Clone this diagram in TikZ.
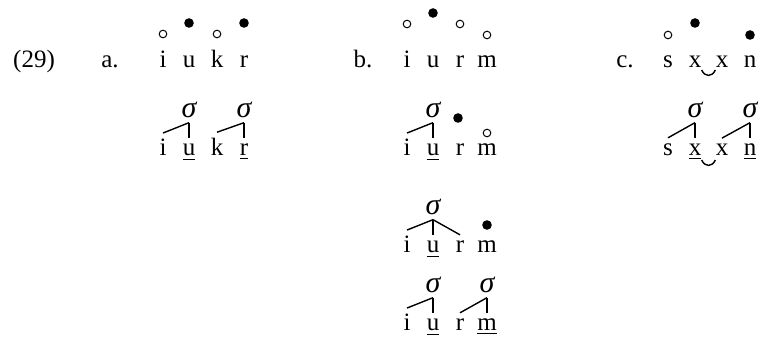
\documentclass[tikz,border=0pt]{standalone}
\usepackage{fontspec}
\setmainfont{Liberation Serif}
\usetikzlibrary{positioning}

\tikzset{
    seg/.style={anchor=base, inner sep=3pt},
    syl/.style={anchor=base, inner sep=2pt, font=\fontsize{15}{18}\selectfont\itshape},
    hollow/.style={circle, draw, line width=0.5pt, inner sep=0pt, minimum size=3.8pt},
    solid/.style={circle, fill, inner sep=0pt, minimum size=4.8pt},
    assoc/.style={line width=0.7pt},
    slur/.style={line width=0.7pt, out=-65, in=-115, looseness=1.5}
}

\begin{document}
\begin{tikzpicture}[x=0.5pt, y=-0.5pt, font=\fontsize{12.5}{15}\selectfont]
    \useasboundingbox (0,0) rectangle (760,340);

    % labels
    \node[seg] (ex) at (34,68) {(29)};
    \node[seg] (la) at (110,68) {a.};
    \node[seg] (lb) at (363,68) {b.};
    \node[seg] (lc) at (625,68) {c.};

    % (a) input
    \node[seg] (a1i) at (163,68) {i};
    \node[seg] (a1u) at (189,68) {u};
    \node[seg] (a1k) at (217,68) {k};
    \node[seg] (a1r) at (244,68) {r};
    \node[hollow] at (163,34) {};
    \node[solid] at (189,23) {};
    \node[hollow] at (217,34) {};
    \node[solid] at (244,23) {};

    % (a) output
    \node[seg] (a2i) at (163,156) {i};
    \node[seg] (a2u) at (189,156) {\underline{u}};
    \node[seg] (a2k) at (217,156) {k};
    \node[seg] (a2r) at (244,156) {\underline{r}};
    \node[syl] (a2s1) at (189,118) {σ};
    \node[syl] (a2s2) at (244,118) {σ};
    \draw[assoc] (a2s1.south) -- (a2i.north);
    \draw[assoc] (a2s1.south) -- (a2u.north);
    \draw[assoc] (a2s2.south) -- (a2k.north);
    \draw[assoc] (a2s2.south) -- (a2r.north);

    % (b) input
    \node[seg] (b1i) at (407,68) {i};
    \node[seg] (b1u) at (433,68) {u};
    \node[seg] (b1r) at (460,68) {r};
    \node[seg] (b1m) at (487,68) {m};
    \node[hollow] at (407,24) {};
    \node[solid] at (433,13) {};
    \node[hollow] at (460,24) {};
    \node[hollow] at (487,35) {};

    % (b) step 1
    \node[seg] (b2i) at (407,156) {i};
    \node[seg] (b2u) at (433,156) {\underline{u}};
    \node[seg] (b2r) at (460,156) {r};
    \node[seg] (b2m) at (487,156) {m};
    \node[syl] (b2s) at (433,118) {σ};
    \node[solid] at (458,118) {};
    \node[hollow] at (487,133) {};
    \draw[assoc] (b2s.south) -- (b2i.north);
    \draw[assoc] (b2s.south) -- (b2u.north);

    % (b) step 2
    \node[seg] (b3i) at (407,253) {i};
    \node[seg] (b3u) at (433,253) {\underline{u}};
    \node[seg] (b3r) at (460,253) {r};
    \node[seg] (b3m) at (487,253) {m};
    \node[syl] (b3s) at (433,215) {σ};
    \node[solid] at (487,225) {};
    \draw[assoc] (b3s.south) -- (b3i.north);
    \draw[assoc] (b3s.south) -- (b3u.north);
    \draw[assoc] (b3s.south) -- (b3r.north);

    % (b) step 3
    \node[seg] (b4i) at (407,331) {i};
    \node[seg] (b4u) at (433,331) {\underline{u}};
    \node[seg] (b4r) at (460,331) {r};
    \node[seg] (b4m) at (487,331) {\underline{m}};
    \node[syl] (b4s1) at (433,293) {σ};
    \node[syl] (b4s2) at (487,293) {σ};
    \draw[assoc] (b4s1.south) -- (b4i.north);
    \draw[assoc] (b4s1.south) -- (b4u.north);
    \draw[assoc] (b4s2.south) -- (b4r.north);
    \draw[assoc] (b4s2.south) -- (b4m.north);

    % (c) input
    \node[seg] (c1s) at (668,68) {s};
    \node[seg] (c1x) at (695,68) {x};
    \node[seg] (c1y) at (722,68) {x};
    \node[seg] (c1n) at (750,68) {n};
    \node[hollow] at (668,35) {};
    \node[solid] at (695,23) {};
    \node[solid] at (750,35) {};
    \draw[slur] ([xshift=-3pt,yshift=-1pt]c1x.base east) to ([xshift=3pt,yshift=-1pt]c1y.base west);

    % (c) output
    \node[seg] (c2s) at (668,156) {s};
    \node[seg] (c2x) at (695,156) {\underline{x}};
    \node[seg] (c2y) at (722,156) {x};
    \node[seg] (c2n) at (750,156) {\underline{n}};
    \node[syl] (c2s1) at (695,118) {σ};
    \node[syl] (c2s2) at (750,118) {σ};
    \draw[assoc] (c2s1.south) -- (c2s.north);
    \draw[assoc] (c2s1.south) -- (c2x.north);
    \draw[assoc] (c2s2.south) -- (c2y.north);
    \draw[assoc] (c2s2.south) -- (c2n.north);
    \draw[slur] ([xshift=-3pt,yshift=-2pt]c2x.base east) to ([xshift=3pt,yshift=-2pt]c2y.base west);
\end{tikzpicture}
\end{document}
